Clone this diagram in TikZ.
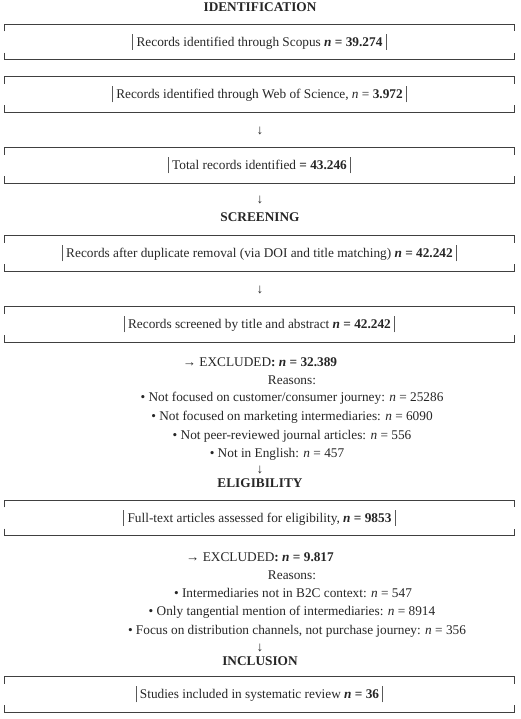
\documentclass[tikz,border=0pt]{standalone}
\usepackage{fontspec}
\setmainfont{Liberation Serif}
\usepackage{tikz}
\usetikzlibrary{positioning}
\newcommand{\boxbar}{\textcolor{black!65}{\rule[-3.5pt]{1pt}{16pt}}}
\tikzstyle{box_node} = [
    minimum width=509pt, 
    minimum height=35pt, 
    align=center, 
    inner sep=0pt, % brackets are drawn afterwards
    text=black!85
]
\tikzstyle{head_node} = [
    font=\fontsize{13.3}{16}\selectfont\bfseries, 
    text=black!85, 
    inner sep=0pt
]
\tikzstyle{line_node} = [
    text=black!85, 
    inner sep=0pt
]
\tikzstyle{bracket} = [
    draw=black!75, 
    line width=0.9pt
]

\begin{document}
\begin{tikzpicture}[
    x=1pt, y=1pt, 
    font=\fontsize{13.3}{16}\selectfont
]
\useasboundingbox (0,0) rectangle (520,719);

% identification
\node [head_node] (ident) at (260,712) {IDENTIFICATION};
\node [box_node] (scopus) at (259.5,677) {\boxbar\ Records identified through Scopus \textbf{\textit{n} = 39.274} \boxbar};
\node [box_node] (wos) at (259.5,624.5) {\boxbar\ Records identified through Web of Science, \textit{n} = \textbf{3.972} \boxbar};
\node [line_node] (arr1) at (260,588) {↓};
\node [box_node] (total) at (259.5,553.5) {\boxbar\ Total records identified \textbf{= 43.246} \boxbar};
\node [line_node] (arr2) at (260,519) {↓};

% screening
\node [head_node] (screen) at (260,502) {SCREENING};
\node [box_node] (dedup) at (259.5,465.5) {\boxbar\ Records after duplicate removal (via DOI and title matching) \textbf{\textit{n} = 42.242} \boxbar};
\node [line_node] (arr3) at (260,429) {↓};
\node [box_node] (screened) at (259.5,394.5) {\boxbar\ Records screened by title and abstract \textbf{\textit{n} = 42.242} \boxbar};
\node [line_node] (excl1) at (260,357) {→ EXCLUDED\textbf{: \textit{n} = 32.389}};
\node [line_node] (why1) at (292,339) {Reasons:};
\node [line_node] (r11) at (292,321) {• Not focused on customer/consumer journey: \textit{n} = 25286};
\node [line_node] (r12) at (292,302) {• Not focused on marketing intermediaries: \textit{n} = 6090};
\node [line_node] (r13) at (292,283) {• Not peer-reviewed journal articles: \textit{n} = 556};
\node [line_node] (r14) at (277,265) {• Not in English: \textit{n} = 457};
\node [line_node] (arr4) at (260,249) {↓};

% eligibility
\node [head_node] (elig) at (260,236) {ELIGIBILITY};
\node [box_node] (fulltext) at (259.5,201) {\boxbar\ Full-text articles assessed for eligibility, \textbf{\textit{n} = 9853} \boxbar};
\node [line_node] (excl2) at (260,162) {→ EXCLUDED\textbf{: \textit{n} = 9.817}};
\node [line_node] (why2) at (292,144) {Reasons:};
\node [line_node] (r21) at (293,126) {• Intermediaries not in B2C context: \textit{n} = 547};
\node [line_node] (r22) at (292,107) {• Only tangential mention of intermediaries: \textit{n} = 8914};
\node [line_node] (r23) at (297,88) {• Focus on distribution channels, not purchase journey: \textit{n} = 356};
\node [line_node] (arr5) at (260,71) {↓};

% inclusion
\node [head_node] (incl) at (260,58) {INCLUSION};
\node [box_node] (included) at (259.5,24.5) {\boxbar\ Studies included in systematic review \textbf{\textit{n} = 36} \boxbar};

\foreach \b in {scopus,wos,total,dedup,screened,fulltext,included} {
    \draw [bracket] ([yshift=-7pt]\b.north west) |- (\b.north east) -- ++(0,-7pt);
    \draw [bracket] ([yshift=7pt]\b.south west) |- (\b.south east) -- ++(0,7pt);
}
\end{tikzpicture}
\end{document}
